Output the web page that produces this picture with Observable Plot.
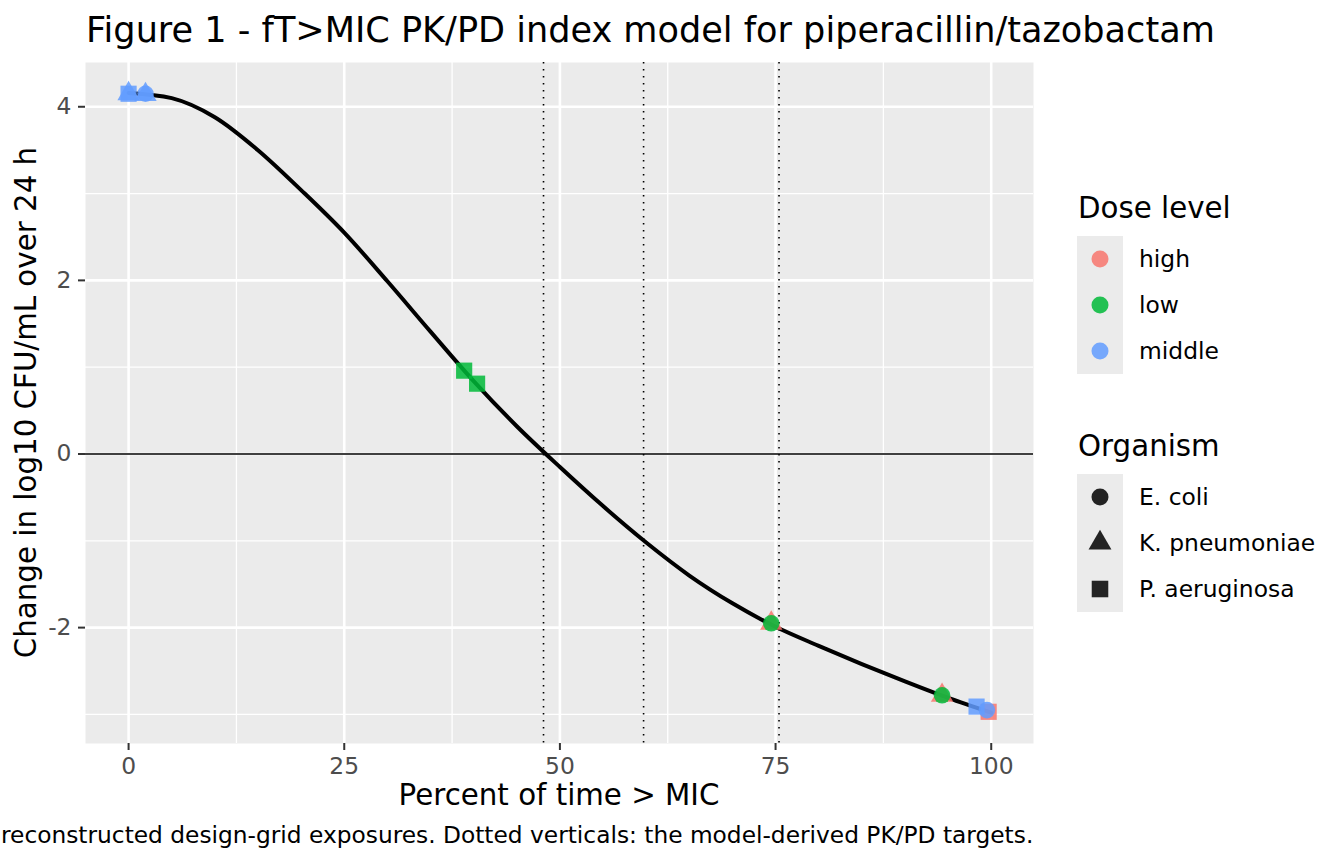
<!DOCTYPE html>
<html>
<head>
<meta charset="utf-8">
<script src="https://cdn.jsdelivr.net/npm/d3@7"></script>
<script src="https://cdn.jsdelivr.net/npm/@observablehq/plot@0.6"></script>
<style>
  html, body { margin: 0; padding: 0; background: white; }
  #root { position: relative; width: 1344px; height: 864px; overflow: hidden; font-family: "DejaVu Sans", sans-serif; }
  #chart, #overlay { position: absolute; left: 0; top: 0; }
</style>
</head>
<body>
<div id="root">
  <div id="chart"></div>
  <svg id="overlay" width="1344" height="864"></svg>
</div>
<script>
// ---------- data ----------
const titleText = "Figure 1 - fT>MIC PK/PD index model for piperacillin/tazobactam";
const xLabel = "Percent of time > MIC";
const yLabel = "Change in log10 CFU/mL over 24 h";
const captionText = "reconstructed design-grid exposures. Dotted verticals: the model-derived PK/PD targets.";

const doseLevels = ["high", "low", "middle"];
const doseColors = ["#F8766D", "#00BA38", "#619CFF"];
const organisms = ["E. coli", "K. pneumoniae", "P. aeruginosa"];

const xTicks = [0, 25, 50, 75, 100];
const xMinor = [12.5, 37.5, 62.5, 87.5];
const yTicks = [-2, 0, 2, 4];
const yMinor = [-3, -1, 1, 3];

// model curve
const curvePct    = [0, 5, 10, 15, 20, 25, 30, 35, 40, 45, 50, 55, 60, 65, 70, 75, 80, 85, 90, 95, 100];
const curveChange = [4.16, 4.10, 3.88, 3.50, 3.04, 2.55, 1.99, 1.41, 0.84, 0.32, -0.15, -0.60, -1.02, -1.40, -1.72, -1.99, -2.21, -2.42, -2.62, -2.81, -2.98];

// design-grid exposures
const pointDose     = ["high", "high", "high", "low", "low", "low", "low", "middle", "middle", "middle", "middle", "middle", "middle"];
const pointOrganism = ["K. pneumoniae", "K. pneumoniae", "P. aeruginosa", "E. coli", "E. coli", "P. aeruginosa", "P. aeruginosa", "P. aeruginosa", "K. pneumoniae", "K. pneumoniae", "E. coli", "P. aeruginosa", "E. coli"];
const pointPct      = [74.5, 94.3, 99.7, 74.5, 94.3, 38.9, 40.4, 0.0, 0.0, 1.96, 1.96, 98.3, 99.5];
const pointChange   = [-1.95, -2.78, -2.97, -1.95, -2.78, 0.96, 0.81, 4.15, 4.15, 4.14, 4.15, -2.91, -2.95];

// model-derived PK/PD targets (stasis, 1-log kill, 2-log kill)
const targets = [48.1, 59.7, 75.4];

// ---------- build ----------
const curve = curvePct.map((x, i) => ({x, y: curveChange[i]}));
const points = pointPct.map((x, i) => ({x, y: pointChange[i], dose: pointDose[i], organism: pointOrganism[i]}));

const squareSymbol = {
  draw(context, size) {
    const s = Math.sqrt(size) * 0.55;
    context.moveTo(-s, -s);
    context.lineTo(s, -s);
    context.lineTo(s, s);
    context.lineTo(-s, s);
    context.closePath();
  }
};
const symbolRange = [d3.symbolCircle, d3.symbolTriangle, squareSymbol];

const tickFont = 23.4;
const chart = Plot.plot({
  width: 1344,
  height: 864,
  marginTop: 62,
  marginBottom: 121,
  marginLeft: 85,
  marginRight: 311,
  style: {fontFamily: "DejaVu Sans", fontSize: tickFont + "px", background: "transparent", overflow: "visible"},
  x: {domain: [-4.995, 104.9]},
  y: {domain: [-3.335, 4.51]},
  color: {domain: doseLevels, range: doseColors},
  symbol: {domain: organisms, range: symbolRange},
  marks: [
    Plot.frame({fill: "#EBEBEB", stroke: null}),
    Plot.gridX(xMinor, {stroke: "white", strokeOpacity: 1, strokeWidth: 1.3}),
    Plot.gridY(yMinor, {stroke: "white", strokeOpacity: 1, strokeWidth: 1.3}),
    Plot.gridX(xTicks, {stroke: "white", strokeOpacity: 1, strokeWidth: 2.6}),
    Plot.gridY(yTicks, {stroke: "white", strokeOpacity: 1, strokeWidth: 2.6}),
    Plot.ruleY([0], {stroke: "black", strokeWidth: 1.6}),
    Plot.ruleX(targets, {stroke: "black", strokeWidth: 1.6, strokeDasharray: "1.6,5.4"}),
    Plot.line(curve, {x: "x", y: "y", stroke: "black", strokeWidth: 4, curve: "monotone-x"}),
    Plot.dot(points, {x: "x", y: "y", fill: "dose", symbol: "organism", r: 8.3, fillOpacity: 0.85, stroke: null}),
    Plot.axisX(xTicks, {tickSize: 7, tickPadding: 7, stroke: "#333333", strokeWidth: 2, fill: "#4D4D4D", fontSize: tickFont, label: null, tickFormat: d => String(d)}),
    Plot.axisY(yTicks, {tickSize: 7, tickPadding: 7, stroke: "#333333", strokeWidth: 2, fill: "#4D4D4D", fontSize: tickFont, label: null, tickFormat: d => String(d)})
  ]
});
document.getElementById("chart").appendChild(chart);

// ---------- texts and legends ----------
const svg = d3.select("#overlay").style("font-family", "DejaVu Sans");

svg.append("text").attr("x", 86).attr("y", 42).attr("font-size", 35.1).attr("fill", "black").text(titleText);
svg.append("text").attr("x", 559).attr("y", 805).attr("text-anchor", "middle").attr("font-size", 29.3).attr("fill", "black").text(xLabel);
svg.append("text").attr("transform", "translate(36,402.5) rotate(-90)").attr("text-anchor", "middle").attr("font-size", 29.3).attr("fill", "black").text(yLabel);
svg.append("text").attr("x", 1).attr("y", 843).attr("text-anchor", "start").attr("font-size", 23.3).attr("fill", "black").text(captionText);

function legend(title, titleY, boxTop, labels, styleFn) {
  const g = svg.append("g");
  g.append("text").attr("x", 1078).attr("y", titleY).attr("font-size", 29.3).attr("fill", "black").text(title);
  const rowH = 46;
  g.append("rect").attr("x", 1077).attr("y", boxTop).attr("width", 46).attr("height", rowH * labels.length).attr("fill", "#EBEBEB");
  labels.forEach((lab, i) => {
    const cy = boxTop + rowH * i + rowH / 2;
    const s = styleFn(i);
    g.append("path")
      .attr("transform", `translate(1100,${cy})`)
      .attr("d", d3.symbol(s.symbol, Math.PI * 8.5 * 8.5)())
      .attr("fill", s.fill).attr("fill-opacity", 0.85);
    g.append("text").attr("x", 1139).attr("y", cy + 8).attr("font-size", 23.4).attr("fill", "black").text(lab);
  });
}
legend("Dose level", 218, 236, doseLevels, i => ({symbol: d3.symbolCircle, fill: doseColors[i]}));
legend("Organism", 456, 474, organisms, i => ({symbol: symbolRange[i], fill: "black"}));
</script>
</body>
</html>
